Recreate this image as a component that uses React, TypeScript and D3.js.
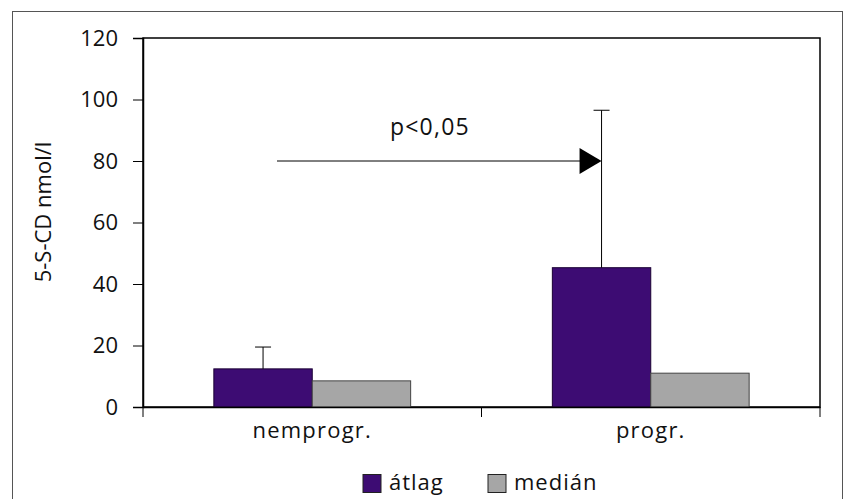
import React, { useEffect, useRef } from 'react';
import * as d3 from 'd3';

const categories = ['nemprogr.', 'progr.'];
const seriesNames = ['átlag', 'medián'];
const atlagValues = [12.4, 45.3];
const atlagErrors = [19.5, 96.5];
const medianValues = [8.5, 11.0];
const yTicks = [0, 20, 40, 60, 80, 100, 120];
const colors = ['#3d0c73', '#a6a6a6'];

const App = () => {
  const ref = useRef<SVGSVGElement>(null);

  useEffect(() => {
    const svg = d3.select(ref.current);
    svg.selectAll('*').remove();

    const font = '"Open Sans", sans-serif';
    const fs = '22px';
    const left = 143, right = 820, top = 38, bottom = 407;

    // outer frame
    svg.append('rect')
      .attr('x', 12.5).attr('y', 11.5)
      .attr('width', 830).attr('height', 520)
      .attr('fill', 'white').attr('stroke', '#555').attr('stroke-width', 1);

    const x = d3.scaleBand().domain(categories).range([left, right]);
    const inner = d3.scaleBand().domain(seriesNames).range([0, x.bandwidth()])
      .paddingOuter(0.72).paddingInner(0);
    const y = d3.scaleLinear().domain([0, 120]).range([bottom, top]);

    // plot frame
    svg.append('rect')
      .attr('x', left).attr('y', top)
      .attr('width', right - left).attr('height', bottom - top)
      .attr('fill', 'none').attr('stroke', '#000').attr('stroke-width', 1.5);

    const series = [atlagValues, medianValues];
    series.forEach((vals, si) => {
      svg.append('g').selectAll('rect')
        .data(categories)
        .enter()
        .append('rect')
        .attr('x', (d) => (x(d) as number) + (inner(seriesNames[si]) as number))
        .attr('y', (d, i) => y(vals[i]))
        .attr('width', inner.bandwidth())
        .attr('height', (d, i) => bottom - y(vals[i]))
        .attr('fill', colors[si])
        .attr('stroke', si === 0 ? '#1a0033' : '#444')
        .attr('stroke-width', 1);
    });

    // error bars on átlag
    categories.forEach((c, i) => {
      const cx = (x(c) as number) + (inner('átlag') as number) + inner.bandwidth() / 2;
      svg.append('line')
        .attr('x1', cx).attr('x2', cx)
        .attr('y1', y(atlagValues[i])).attr('y2', y(atlagErrors[i]))
        .attr('stroke', '#000').attr('stroke-width', 1);
      svg.append('line')
        .attr('x1', cx - 8).attr('x2', cx + 8)
        .attr('y1', y(atlagErrors[i])).attr('y2', y(atlagErrors[i]))
        .attr('stroke', '#000').attr('stroke-width', 1);
    });

    // y axis
    const yAxis = svg.append('g')
      .attr('transform', `translate(${left},0)`)
      .call(d3.axisLeft(y).tickValues(yTicks).tickSize(10).tickPadding(15));
    yAxis.select('.domain').attr('stroke-width', 1.5);
    yAxis.selectAll('text')
      .style('font-family', font).style('font-size', fs).attr('fill', '#111');

    // x axis
    const xAxis = svg.append('g')
      .attr('transform', `translate(0,${bottom})`)
      .call(d3.axisBottom(x).tickSize(0).tickPadding(15));
    xAxis.select('.domain').attr('stroke-width', 1.5);
    xAxis.selectAll('text')
      .style('font-family', font).style('font-size', fs)
      .style('letter-spacing', '1.2px').attr('fill', '#111');
    const bounds = [left, ...categories.map((c) => (x(c) as number) + x.bandwidth())];
    bounds.forEach((bx) => {
      svg.append('line')
        .attr('x1', bx).attr('x2', bx)
        .attr('y1', bottom).attr('y2', bottom + 10)
        .attr('stroke', '#000').attr('stroke-width', 1);
    });

    // y label
    svg.append('text')
      .attr('transform', `translate(51,212) rotate(-90)`)
      .attr('text-anchor', 'middle')
      .style('font-family', font).style('font-size', fs)
      .attr('fill', '#111')
      .text('5-S-CD nmol/l');

    // significance arrow
    const arrowEndX = (x('progr.') as number) + (inner('átlag') as number) + inner.bandwidth() / 2;
    const ay = y(80);
    svg.append('line')
      .attr('x1', 277).attr('x2', arrowEndX - 20)
      .attr('y1', ay).attr('y2', ay)
      .attr('stroke', '#000').attr('stroke-width', 1);
    svg.append('path')
      .attr('d', `M${arrowEndX},${ay} L${arrowEndX - 22},${ay - 13} L${arrowEndX - 22},${ay + 13} Z`)
      .attr('fill', '#000');
    svg.append('text')
      .attr('x', 390).attr('y', 135)
      .style('font-family', font).style('font-size', '23px')
      .style('letter-spacing', '1.2px')
      .attr('fill', '#111')
      .text('p<0,05');

    // legend
    const legendX = [363, 488];
    seriesNames.forEach((name, i) => {
      svg.append('rect')
        .attr('x', legendX[i]).attr('y', 474.5)
        .attr('width', 18).attr('height', 18)
        .attr('fill', colors[i]).attr('stroke', '#222').attr('stroke-width', 1);
      svg.append('text')
        .attr('x', legendX[i] + 26).attr('y', 490)
        .style('font-family', font).style('font-size', fs)
        .style('letter-spacing', '1px')
        .attr('fill', '#111')
        .text(name);
    });
  }, []);

  return (
    <svg
      ref={ref}
      width={848}
      height={499}
      style={{ position: 'absolute', left: 0, top: 0, background: 'white' }}
    />
  );
};

export default App;
